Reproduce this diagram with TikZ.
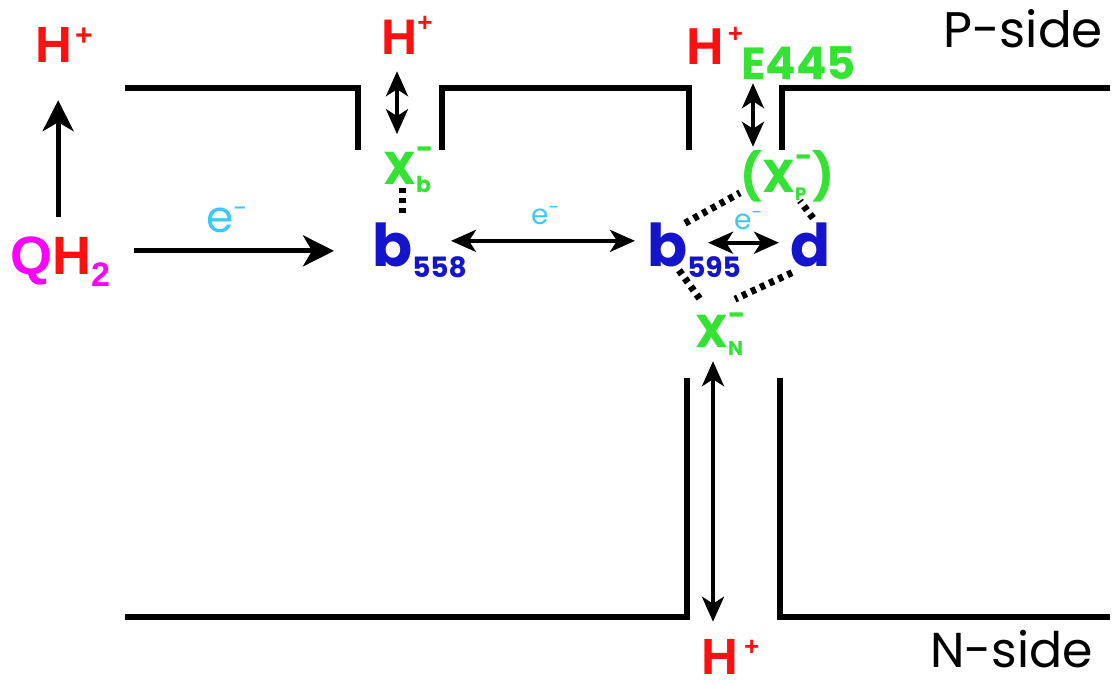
\documentclass[tikz,border=0pt]{standalone}
\usepackage{fontspec}
\setmainfont{Poppins}
\newfontfamily\hfont{Liberation Sans}
\usepackage{tikz}
\usetikzlibrary{arrows.meta}
\usetikzlibrary{calc}

\definecolor{protred}{RGB}{255,16,16}
\definecolor{qmag}{RGB}{255,0,255}
\definecolor{xgreen}{RGB}{52,226,52}
\definecolor{hemeblue}{RGB}{20,20,205}
\definecolor{ecyan}{RGB}{60,200,255}

\newcommand{\fs}[1]{\fontsize{#1}{#1}\selectfont}

\begin{document}
\begin{tikzpicture}[x=1pt,y=-1pt,
    lbl/.style={inner sep=0pt,anchor=base west},
    memb/.style={line width=5.5pt},
    arr/.style={line width=5pt,-{Stealth[length=31pt,width=31pt,inset=9pt]}},
    dbl/.style={line width=4pt,{Stealth[length=25pt,width=22pt,inset=7pt]}-{Stealth[length=25pt,width=22pt,inset=7pt]}},
    dotline/.style={line width=7pt,dash pattern=on 5pt off 5pt}]
    \useasboundingbox (0,0) rectangle (1116,684);

    % membrane
    \draw[memb] (125,88) -- (358,88) -- (358,150);
    \draw[memb] (442,150) -- (442,88) -- (689,88) -- (689,150);
    \draw[memb] (782,150) -- (782,88) -- (1110,88);
    \draw[memb] (125,617) -- (687,617) -- (687,378);
    \draw[memb] (780,378) -- (780,617) -- (1110,617);

    \node[lbl] (pside) at (943,48) {\fs{50}P-side};
    \node[lbl] (nside) at (930,667) {\fs{49}N-side};

    % protons
    \node[lbl,text=protred] (hleft) at (35,63) {\hfont\bfseries\fs{51}H\hspace{3pt}\raisebox{17pt}{\fs{30}+}};
    \node[lbl,text=protred] (hmid) at (381,55) {\hfont\bfseries\fs{50}H\raisebox{23pt}{\fs{26}+}};
    \node[lbl,text=protred] (hright) at (686,65) {\hfont\bfseries\fs{52}H\hspace{4pt}\raisebox{22pt}{\fs{26}+}};
    \node[lbl,text=protred] (hbot) at (701,674) {\hfont\bfseries\fs{51}H\hspace{6pt}\raisebox{19pt}{\fs{26}+}};

    \node[lbl] (qh2) at (10,275) {\hfont\bfseries\fs{54}\textcolor{qmag}{Q}\textcolor{protred}{H}\textcolor{qmag}{\raisebox{-12pt}{\fs{34}2}}};

    % hemes
    \node[lbl,text=hemeblue] (b558) at (372,267) {\bfseries\fs{59}b\raisebox{-11pt}{\fs{28}558}};
    \node[lbl,text=hemeblue] (b595) at (647,267) {\bfseries\fs{59}b\raisebox{-11pt}{\fs{28}595}};
    \node[lbl,text=hemeblue] (dhem) at (790,267) {\bfseries\fs{59}d};

    % groups
    \node[lbl,text=xgreen] (e445) at (741,80) {\bfseries\fs{45}E445};
    \node[lbl,text=xgreen] (xb) at (383,185) {\bfseries\fs{46}X\rlap{\raisebox{-8pt}{\fs{22}b}}\raisebox{25pt}{\fs{30}-}};
    \node[lbl,text=xgreen] (xp) at (740,193) {\bfseries\fs{46}(X\rlap{\raisebox{-8pt}{\fs{18}P}}\raisebox{25pt}{\fs{30}-})};
    \node[lbl,text=xgreen] (xn) at (695,348) {\bfseries\fs{46}X\rlap{\raisebox{-8pt}{\fs{20}N}}\raisebox{22pt}{\fs{30}-}};

    % electrons
    \node[lbl,text=ecyan] (eqh) at (206,233) {\fs{44}e\raisebox{15pt}{\fs{26}-}};
    \node[lbl,text=ecyan] (ebb) at (531,225) {\fs{28}e\raisebox{10pt}{\fs{20}-}};
    \node[lbl,text=ecyan] (ebd) at (734,230) {\fs{28}e\raisebox{10pt}{\fs{20}-}};

    % transfers
    \draw[arr,shorten <=20pt,shorten >=37pt] ([xshift=-2pt]qh2.north) -- ([xshift=-2pt]qh2.north |- hleft.south);
    \draw[arr,shorten <=24pt,shorten >=38pt] (qh2.east |- b558.west) -- (b558.west);
    \draw[dbl] ([xshift=-16pt,yshift=10pt]b558.east) -- ([xshift=-12pt,yshift=10pt]b558.east -| b595.west);
    \draw[dbl] ([xshift=-33pt,yshift=8pt]b595.east) -- ([xshift=-11pt,yshift=8pt]b595.east -| dhem.west);

    \draw[dbl,shorten <=16pt,shorten >=13pt] ([xshift=16pt]hmid.south west) -- ([xshift=16pt]hmid.south west |- xb.north);
    \draw[dbl,shorten <=3pt,shorten >=4pt] ([xshift=12pt]e445.south west) -- ([xshift=12pt]e445.south west |- xp.north);
    \draw[dbl,shorten <=5pt,shorten >=17pt] ([xshift=18pt]xn.south west) -- ([xshift=18pt]xn.south west |- hbot.north);

    % bonds
    \draw[dotline,shorten <=-5pt,shorten >=5pt] ([xshift=19pt]xb.south west) -- ([xshift=19pt]xb.south west |- b558.north);
    \draw[dotline] ([xshift=38pt]b595.north west) -- ([yshift=10pt]xp.south west);
    \draw[dotline] ([xshift=23pt,yshift=5pt]dhem.north west) -- ([xshift=60pt,yshift=2pt]xp.south west);
    \draw[dotline] ([xshift=32pt,yshift=8pt]b595.south west) -- ([xshift=5pt,yshift=14pt]xn.north west);
    \draw[dotline] ([xshift=2pt,yshift=-5pt]dhem.south west) -- ([xshift=40pt,yshift=14pt]xn.north west);
\end{tikzpicture}
\end{document}
